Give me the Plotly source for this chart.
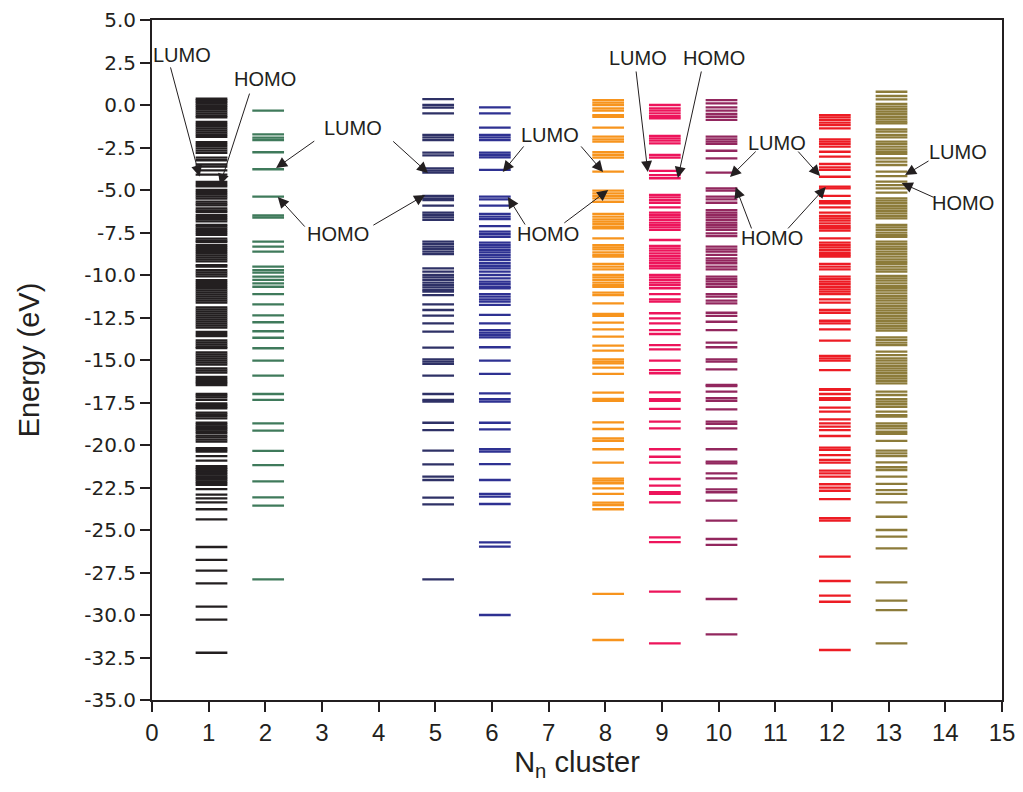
import plotly.graph_objects as go

# ---------------- data ----------------
cluster_x = [1, 2, 5, 6, 8, 9, 10, 12, 13]
cluster_colors = ["#231f20", "#3f7a5b", "#2e3166", "#2e3192", "#f7941d",
                  "#ed145b", "#92275e", "#ed1c24", "#8c7b3a"]

levels_1 = [0.38, 0.28, 0.18, 0.08, -0.02, -0.12, -0.25, -0.38, -0.5, -0.62, -0.72,
            -1.0, -1.12, -1.25, -1.38, -1.5, -1.62, -1.75, -1.88, -2.18, -2.3, -2.42,
            -2.55, -2.68, -2.82, -3.1, -3.25, -3.5, -3.62, -3.85, -4.1, -4.52, -4.65, -4.78,
            -5.0, -5.12, -5.25, -5.38, -5.5, -5.68, -5.8, -5.9, -6.08, -6.2, -6.3, -6.48,
            -6.6, -6.72, -6.85, -7.05, -7.15, -7.28, -7.4, -7.52, -7.64, -7.86, -7.98,
            -8.06, -8.24, -8.36, -8.48, -8.6, -8.72, -8.84, -8.96, -9.08, -9.2, -9.42,
            -9.5, -9.72, -9.84, -9.96, -10.08, -10.3, -10.42, -10.54, -10.66, -10.78,
            -10.9, -11.02, -11.14, -11.26, -11.38, -11.5, -11.62, -11.9, -12.02, -12.14,
            -12.26, -12.38, -12.5, -12.62, -12.74, -12.86, -12.98, -13.1, -13.35, -13.48,
            -13.6, -13.85, -13.97, -14.1, -14.22, -14.3, -14.55, -14.67, -14.79, -14.91,
            -15.03, -15.15, -15.27, -15.5, -15.62, -15.74, -16.0, -16.12, -16.25, -16.35,
            -16.47, -17.0, -17.1, -17.2, -17.35, -17.55, -17.65, -17.75, -17.84, -18.1,
            -18.2, -18.3, -18.43, -18.69, -18.8, -18.9, -19.0, -19.1, -19.2, -19.3,
            -19.45, -19.55, -19.68, -19.8, -20.18, -20.28, -20.39, -20.65, -20.92, -21.24,
            -21.34, -21.44, -21.54, -21.64, -21.74, -21.84, -21.94, -22.04, -22.14, -22.24,
            -22.35, -22.59, -22.92, -23.14, -23.37, -23.78, -24.37, -26.0, -26.76, -27.39,
            -28.14, -29.51, -30.27, -32.22]

levels_2 = [-0.33, -1.73, -1.92, -2.06, -2.78, -3.78, -5.39, -6.5, -6.62, -8.04, -8.33,
            -8.63, -9.51, -9.71, -9.86, -10.1, -10.29, -10.49, -10.69, -11.12, -11.73,
            -12.37, -12.78, -13.31, -13.69, -14.31, -15.04, -15.92, -17.0, -17.35, -18.73,
            -19.16, -20.35, -21.18, -22.14, -23.08, -23.57, -27.9]

levels_5 = [0.35, 0.0, -0.16, -0.49, -1.76, -1.9, -2.06, -2.8, -2.96, -3.73, -3.86, -3.98,
            -5.35, -5.49, -5.59, -5.92, -6.33, -6.47, -6.61, -6.76, -8.04, -8.18, -8.33,
            -8.47, -8.63, -8.77, -9.61, -9.8, -10.0, -10.14, -10.29, -10.45, -10.59, -10.73,
            -10.88, -10.98, -11.18, -11.73, -12.06, -12.39, -12.84, -13.33, -14.27, -14.96,
            -15.1, -15.23, -15.92, -17.0, -17.35, -17.45, -18.69, -19.12, -20.33, -21.14,
            -21.86, -22.06, -23.1, -23.49, -27.9]

levels_6 = [-0.14, -0.49, -1.33, -1.76, -1.9, -2.06, -2.8, -2.94, -3.08, -3.82, -5.39,
            -5.55, -5.92, -6.41, -6.57, -6.71, -7.12, -7.45, -7.59, -7.75, -8.1, -8.24,
            -8.37, -8.53, -8.67, -8.82, -8.96, -9.12, -9.31, -9.47, -9.61, -9.8, -10.0,
            -10.2, -10.39, -10.53, -10.69, -10.78, -11.12, -11.27, -11.43, -11.57, -11.76,
            -12.35, -12.84, -13.24, -13.39, -13.53, -13.67, -14.25, -15.04, -15.82, -16.96,
            -17.31, -17.45, -18.69, -19.08, -20.25, -20.39, -21.12, -22.06, -22.88, -23.04,
            -23.47, -25.73, -25.98, -30.0]

levels_8 = [0.29, 0.14, 0.0, -0.2, -0.33, -0.59, -0.69, -1.33, -1.86, -2.02, -2.16, -2.78,
            -2.94, -3.1, -3.92, -5.04, -5.2, -5.35, -5.49, -5.69, -6.41, -6.57, -6.73,
            -6.86, -7.0, -7.16, -7.25, -7.84, -8.24, -8.37, -8.49, -8.67, -8.82, -8.92,
            -9.35, -9.51, -9.67, -10.0, -10.14, -10.29, -10.45, -10.59, -10.69, -11.04,
            -11.18, -11.67, -12.29, -12.41, -12.8, -13.2, -13.63, -14.16, -14.45, -14.96,
            -15.1, -15.2, -15.45, -15.82, -16.92, -17.29, -17.41, -18.67, -19.06, -19.61,
            -19.75, -20.25, -21.04, -21.98, -22.1, -22.25, -22.55, -22.88, -23.39, -23.53,
            -23.78, -28.76, -31.47]

levels_9 = [0.0, -0.2, -0.33, -0.49, -0.65, -0.78, -1.82, -1.96, -2.1, -2.26, -2.94, -3.1,
            -3.88, -4.12, -4.31, -5.29, -5.43, -5.59, -5.75, -6.02, -6.33, -6.47, -6.61,
            -6.76, -6.92, -7.06, -7.2, -7.35, -7.94, -8.29, -8.43, -8.57, -8.73, -8.88,
            -9.02, -9.16, -9.31, -9.47, -9.61, -10.0, -10.14, -10.29, -10.45, -10.59,
            -10.78, -11.12, -11.43, -11.57, -12.25, -12.55, -12.84, -13.24, -13.47, -14.12,
            -14.37, -15.04, -15.59, -15.78, -16.9, -17.31, -17.41, -17.88, -18.63, -19.02,
            -20.25, -20.69, -21.04, -22.0, -22.39, -22.78, -22.88, -23.37, -25.43, -25.71,
            -28.63, -31.67]

levels_10 = [0.29, 0.1, -0.14, -0.33, -0.53, -0.69, -0.88, -1.86, -2.02, -2.16, -2.29,
             -2.69, -3.14, -3.98, -4.9, -5.04, -5.39, -5.55, -5.75, -6.18, -6.33, -6.47,
             -6.61, -6.76, -6.92, -7.06, -7.2, -7.35, -7.55, -7.71, -8.33, -8.49, -8.63,
             -8.82, -9.02, -9.16, -9.31, -9.51, -9.67, -10.1, -10.24, -10.37, -10.53,
             -10.69, -11.12, -11.27, -11.51, -11.67, -12.22, -12.41, -12.75, -13.24, -13.98,
             -14.25, -14.96, -15.1, -15.55, -16.47, -16.53, -16.86, -17.25, -17.41, -17.9,
             -18.63, -18.76, -19.02, -20.25, -20.98, -21.08, -21.67, -21.96, -22.61, -22.78,
             -23.27, -24.45, -25.53, -25.88, -29.06, -31.14]

levels_12 = [-0.59, -0.73, -0.88, -1.04, -1.18, -1.37, -2.02, -2.16, -2.29, -2.45, -2.75,
             -3.04, -3.47, -3.67, -3.82, -4.22, -4.8, -4.9, -5.35, -5.65, -5.78, -6.02,
             -6.33, -6.53, -6.67, -6.8, -6.96, -7.12, -7.25, -7.39, -7.84, -8.1, -8.24,
             -8.37, -8.53, -8.69, -8.82, -8.92, -9.35, -9.51, -9.67, -10.1, -10.24, -10.39,
             -10.53, -10.69, -10.84, -10.98, -11.12, -11.43, -11.63, -12.06, -12.22, -12.69,
             -12.84, -13.2, -13.86, -14.76, -14.9, -15.04, -15.59, -16.71, -16.76, -17.0,
             -17.25, -17.35, -17.8, -18.04, -18.49, -18.73, -18.92, -19.12, -19.47, -20.16,
             -20.29, -20.59, -20.88, -21.04, -21.51, -21.67, -21.86, -22.31, -22.51, -22.69,
             -23.18, -24.31, -24.45, -26.57, -28.0, -28.86, -29.22, -32.06]

levels_13 = [0.78, 0.53, 0.33, 0.06, -0.1, -0.25, -0.39, -0.53, -0.69, -0.84, -0.98, -1.08,
             -1.43, -1.57, -1.76, -1.9, -2.16, -2.29, -2.45, -2.61, -2.75, -2.88, -3.14,
             -3.33, -3.53, -3.92, -4.18, -4.51, -4.71, -4.9, -5.16, -5.49, -5.63, -5.78,
             -5.94, -6.08, -6.22, -6.37, -6.53, -6.67, -7.06, -7.2, -7.35, -7.51, -7.65,
             -7.75, -8.04, -8.18, -8.33, -8.47, -8.63, -8.77, -8.92, -9.08, -9.22, -9.35,
             -9.51, -9.67, -9.8, -10.06, -10.2, -10.33, -10.49, -10.65, -10.78, -10.92,
             -11.08, -11.24, -11.37, -11.51, -11.67, -11.82, -11.96, -12.1, -12.25, -12.41,
             -12.55, -12.69, -12.84, -13.0, -13.14, -13.27, -13.67, -13.82, -13.98, -14.12,
             -14.51, -14.71, -14.9, -15.04, -15.2, -15.35, -15.49, -15.63, -15.78, -15.94,
             -16.08, -16.22, -16.37, -16.86, -17.06, -17.31, -17.45, -17.59, -17.75, -18.04,
             -18.24, -18.33, -18.73, -18.88, -19.02, -19.22, -19.35, -19.76, -20.33, -20.49,
             -20.65, -21.02, -21.31, -21.47, -21.86, -22.29, -22.65, -22.88, -23.37, -24.22,
             -25.0, -25.39, -26.08, -28.08, -29.16, -29.71, -31.67]

all_levels = [levels_1, levels_2, levels_5, levels_6, levels_8, levels_9,
              levels_10, levels_12, levels_13]

y_tick_vals = [5.0, 2.5, 0.0, -2.5, -5.0, -7.5, -10.0, -12.5, -15.0, -17.5, -20.0,
               -22.5, -25.0, -27.5, -30.0, -32.5, -35.0]
y_tick_text = ["5.0", "2.5", "0.0", "-2.5", "-5.0", "-7.5", "-10.0", "-12.5", "-15.0",
               "-17.5", "-20.0", "-22.5", "-25.0", "-27.5", "-30.0", "-32.5", "-35.0"]
x_tick_vals = list(range(0, 16))

# annotations: (label, label_x, label_y, [(tip_x, tip_y, tail_x, tail_y), ...])
labels = [
    ("LUMO", 0.53, 2.94, [(0.84, -4.2, 0.32, 2.3)]),
    ("HOMO", 1.99, 1.53, [(1.2, -4.7, 1.73, 0.76)]),
    ("LUMO", 3.55, -1.35, [(2.19, -3.71, 2.89, -2.06), (4.87, -4.0, 4.23, -2.06)]),
    ("HOMO", 3.28, -7.59, [(2.22, -5.41, 2.72, -7.24), (4.82, -5.29, 3.88, -7.12)]),
    ("LUMO", 7.02, -1.76, [(6.19, -3.94, 6.58, -2.35), (7.96, -3.94, 7.55, -2.35)]),
    ("HOMO", 6.99, -7.59, [(6.28, -5.41, 6.6, -7.12), (8.05, -5.0, 7.25, -7.0)]),
    ("LUMO", 8.58, 2.76, [(8.75, -3.94, 8.54, 2.06)]),
    ("HOMO", 9.92, 2.76, [(9.28, -4.29, 9.7, 2.06)]),
    ("LUMO", 11.03, -2.24, [(10.2, -4.24, 10.68, -2.65), (11.79, -4.18, 11.38, -2.65)]),
    ("HOMO", 10.94, -7.82, [(10.3, -4.82, 10.59, -7.35), (11.89, -4.82, 11.2, -7.35)]),
    ("LUMO", 14.22, -2.76, [(13.29, -4.12, 13.73, -3.24)]),
    ("HOMO", 14.31, -5.76, [(13.23, -4.59, 13.82, -5.47)]),
]

# ---------------- figure ----------------
BAR_LEFT = -0.23
BAR_RIGHT = 0.33
INK = "#231f20"

fig = go.Figure()
for cx, col, lv in zip(cluster_x, cluster_colors, all_levels):
    xs, ys = [], []
    for e in lv:
        xs += [cx + BAR_LEFT, cx + BAR_RIGHT, None]
        ys += [e, e, None]
    fig.add_trace(go.Scatter(x=xs, y=ys, mode="lines",
                             line=dict(color=col, width=2.3),
                             hoverinfo="skip", showlegend=False))

annots = []
for text, lx, ly, arrows in labels:
    annots.append(dict(x=lx, y=ly, xref="x", yref="y", text=text, showarrow=False,
                       font=dict(size=20, color=INK, family="Liberation Sans, Arial")))
    for tx, ty, sx, sy in arrows:
        annots.append(dict(x=tx, y=ty, ax=sx, ay=sy, xref="x", yref="y",
                           axref="x", ayref="y", text="", showarrow=True,
                           arrowhead=2, arrowsize=2.2, arrowwidth=1.0,
                           arrowcolor=INK))

# the page body adds an 8 px offset, so the figure is sized 1015x784
fig.update_layout(
    width=1015, height=784,
    paper_bgcolor="white", plot_bgcolor="white",
    margin=dict(l=144, r=21, t=12, b=92),
    font=dict(family="Liberation Sans, Arial", color=INK),
    annotations=annots,
)
fig.update_xaxes(
    range=[0, 15], tickvals=x_tick_vals, ticks="outside", ticklen=10, tickwidth=2,
    tickcolor=INK, showline=True, linewidth=2, linecolor=INK,
    mirror=True, showgrid=False, zeroline=False, automargin=False,
    tickfont=dict(size=24, family="Liberation Sans, Arial"),
    title=dict(text="N<sub>n</sub> cluster", font=dict(size=29), standoff=4),
)
fig.update_yaxes(
    range=[-35, 5], tickvals=y_tick_vals, ticktext=y_tick_text, ticks="outside",
    ticklen=10, tickwidth=2, tickcolor=INK, showline=True, linewidth=2,
    linecolor=INK, mirror=True, showgrid=False, zeroline=False, automargin=False,
    tickfont=dict(size=20, family="DejaVu Sans"),
    title=dict(text="Energy (eV)", font=dict(size=29), standoff=36),
)

fig.write_html("out.html")
